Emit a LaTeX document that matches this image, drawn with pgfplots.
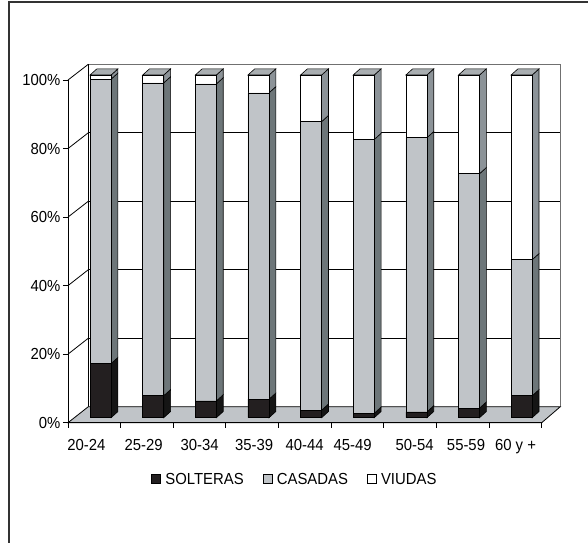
\documentclass[border=0pt]{standalone}
\usepackage{fontspec}
\setmainfont{Liberation Sans}[FakeStretch=0.93]
\usepackage{pgfplots}
\usepackage{pgfplotstable}
\pgfplotsset{compat=1.18}
\definecolor{solfront}{HTML}{231F20}
\definecolor{solside}{HTML}{151515}
\definecolor{casfront}{HTML}{C0C4C8}
\definecolor{casside}{HTML}{6D7679}
\definecolor{viuside}{HTML}{8C9398}
\definecolor{topgray}{HTML}{A9AEB1}
\definecolor{floorgray}{HTML}{C0C4C8}
\definecolor{wallline}{HTML}{707070}
\pgfplotstableread{
x s c v
0 15.8 83.0 1.2
1 6.4 91.3 2.3
2 4.9 92.5 2.6
3 5.4 89.4 5.2
4 2.2 84.2 13.6
5 1.3 79.9 18.8
6 1.7 80.0 18.3
7 2.8 68.4 28.8
8 6.4 39.7 53.9
}\datatable
\def\dxu{0.13}
\def\dyu{1.8}
\newcommand\sidebar[4]{%
 \pgfmathsetmacro\xl{#1+0.3}%
 \pgfmathsetmacro\xr{#1+0.7}%
 \pgfmathsetmacro\xrr{#1+0.7+\dxu}%
 \pgfmathsetmacro\xlr{#1+0.3+\dxu}%
 \pgfmathsetmacro\ya{#2}%
 \pgfmathsetmacro\yb{#2+#3}%
 \pgfmathsetmacro\yc{#2+#3+#4}%
 \pgfmathsetmacro\yad{\ya+\dyu}%
 \pgfmathsetmacro\ybd{\yb+\dyu}%
 \pgfmathsetmacro\ycd{\yc+\dyu}%
 \edef\tmp{%
  \noexpand\addplot[fill=solside,draw=black,line width=0.6pt] coordinates {(\xr,0) (\xrr,\dyu) (\xrr,\yad) (\xr,\ya)} -- cycle;
  \noexpand\addplot[fill=casside,draw=black,line width=0.6pt] coordinates {(\xr,\ya) (\xrr,\yad) (\xrr,\ybd) (\xr,\yb)} -- cycle;
  \noexpand\addplot[fill=viuside,draw=black,line width=0.6pt] coordinates {(\xr,\yb) (\xrr,\ybd) (\xrr,\ycd) (\xr,\yc)} -- cycle;
  \noexpand\addplot[fill=topgray,draw=black,line width=0.6pt] coordinates {(\xl,\yc) (\xr,\yc) (\xrr,\ycd) (\xlr,\ycd)} -- cycle;
 }\tmp
}
\begin{document}
\begin{tikzpicture}[x=1pt,y=1pt]
\useasboundingbox (0,0) rectangle (588,542);
\draw[line width=1.4pt, black!80] (9,-2) -- (9,540) -- (590,540);
% back wall
\begin{axis}[at={(88.3pt,135.3pt)}, anchor=south west, width=472pt, height=342.4pt,
  scale only axis, xmin=0, xmax=9, ymin=0, ymax=100, xtick=\empty,
  ytick={20,40,60,80}, yticklabels={}, ymajorgrids, major tick length=0pt,
  grid style={black, line width=0.8pt}, axis line style={draw=none}, clip=false]
  \draw[wallline, line width=1.4pt] (rel axis cs:0,1) -- (rel axis cs:1,1) -- (rel axis cs:1,0);
  \draw[black, line width=0.8pt] (rel axis cs:0,0) -- (rel axis cs:0,1);
\end{axis}
% left wall lines
\foreach \v in {20,40,60,80,100} {
  \draw[black, line width=0.8pt] (68,119.3+3.427*\v) -- (88.3,135.3+3.424*\v);
}
% floor
\filldraw[fill=floorgray, draw=black, line width=0.8pt] (68,119.3) -- (541.7,119.3) -- (560.3,135.3) -- (88.3,135.3) -- cycle;
% front axis
\begin{axis}[at={(68pt,119.3pt)}, anchor=south west, width=473.7pt, height=342.7pt,
  scale only axis, xmin=0, xmax=9, ymin=0, ymax=100,
  axis x line=bottom, axis y line=left, axis line style={-, black, line width=0.8pt},
  ytick={0,20,40,60,80,100}, yticklabels={0\%,20\%,40\%,60\%,80\%,100\%},
  xtick={0,...,9}, xticklabels={},
  tick align=outside, major tick length=5pt, tick style={black, line width=0.8pt},
  extra x ticks={0.348,1.438,2.499,3.538,4.494,5.406,6.584,7.562,8.503},
  extra x tick labels={20-24,25-29,30-34,35-39,40-44,45-49,50-54,55-59,60 y +},
  extra x tick style={major tick length=0pt, xticklabel style={anchor=base, yshift=-27.5pt}},
  yticklabel style={anchor=east, xshift=1pt},
  ticklabel style={font=\fontsize{16}{18}\selectfont},
  clip=false]
\end{axis}
% bar sides and tops
\begin{axis}[at={(74.25pt,124.3pt)}, anchor=south west, width=473.7pt, height=342.7pt,
  scale only axis, xmin=0, xmax=9, ymin=0, ymax=100, hide axis, clip=false]
  \pgfplotsinvokeforeach{0,...,8}{
    \pgfplotstablegetelem{#1}{s}\of\datatable \let\vs\pgfplotsretval
    \pgfplotstablegetelem{#1}{c}\of\datatable \let\vc\pgfplotsretval
    \pgfplotstablegetelem{#1}{v}\of\datatable \let\vv\pgfplotsretval
    \sidebar{#1}{\vs}{\vc}{\vv}
  }
\end{axis}
% bar fronts
\begin{axis}[at={(74.25pt,124.3pt)}, anchor=south west, width=473.7pt, height=342.7pt,
  scale only axis, xmin=0, xmax=9, ymin=0, ymax=100, hide axis, clip=false,
  ybar stacked, bar width=0.4,
  legend columns=3,
  legend style={at={(0.4635,-0.179)}, anchor=center, draw=none, fill=none,
    inner sep=0pt, nodes={inner sep=0pt, text depth=0pt},
    font=\fontsize{16}{18}\selectfont,
    /tikz/every odd column/.append style={column sep=0pt},
    /tikz/every even column/.append style={column sep=18.8pt}},
  legend image code/.code={\path[draw=none, fill=none] (0pt,0pt) -- (14pt,0pt); \draw[#1, draw=black, line width=0.6pt] (0pt,-4.5pt) rectangle (9pt,4.5pt);}]
  \addplot[fill=solfront, draw=black, line width=0.6pt] table[x expr=\thisrow{x}+0.5, y=s] {\datatable};
  \addplot[fill=casfront, draw=black, line width=0.6pt] table[x expr=\thisrow{x}+0.5, y=c] {\datatable};
  \addplot[fill=white, draw=black, line width=0.6pt] table[x expr=\thisrow{x}+0.5, y=v] {\datatable};
  \legend{SOLTERAS,CASADAS,VIUDAS}
\end{axis}
\end{tikzpicture}
\end{document}
